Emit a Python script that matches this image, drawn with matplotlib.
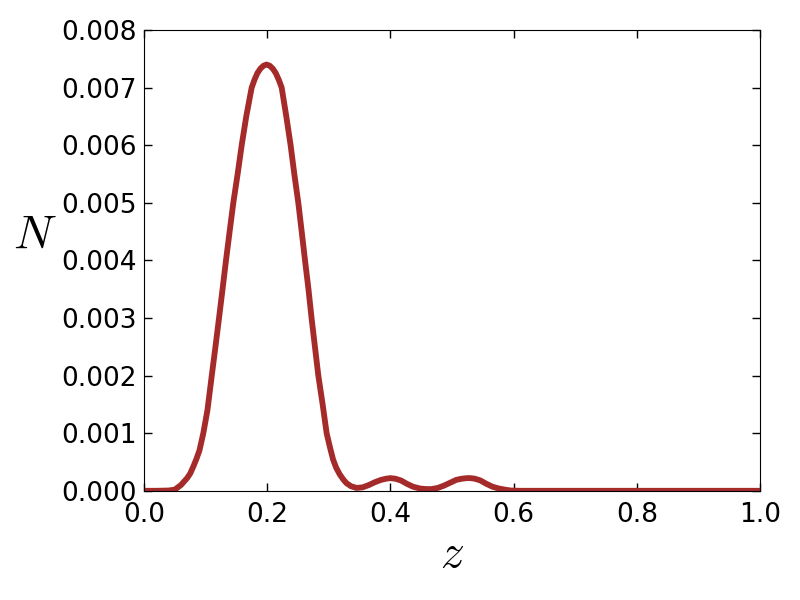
import matplotlib
matplotlib.use('Agg')
from matplotlib import pyplot as plt

# values
z = [0.0, 0.02, 0.04, 0.05, 0.06, 0.07, 0.075, 0.08, 0.085, 0.09, 0.0963, 0.103,
     0.110, 0.116, 0.1218, 0.1275, 0.1331, 0.139, 0.145, 0.152, 0.1586, 0.166,
     0.1748, 0.1795, 0.184, 0.189, 0.194, 0.199, 0.204, 0.209, 0.214, 0.219, 0.2235,
     0.231, 0.238, 0.244, 0.2505, 0.256, 0.2614, 0.267, 0.272, 0.2775, 0.283,
     0.290, 0.2965, 0.302, 0.307, 0.312, 0.318, 0.324, 0.329, 0.336, 0.345,
     0.355, 0.365, 0.375, 0.385, 0.393, 0.400, 0.408, 0.417, 0.427, 0.437,
     0.448, 0.458, 0.467, 0.477, 0.487, 0.497, 0.507, 0.516, 0.524, 0.530,
     0.537, 0.546, 0.556, 0.566, 0.576, 0.586, 0.595, 0.61, 0.7, 0.8,
     0.9, 1.0]
N = [0.0, 0.0, 0.000005, 0.00002, 0.0001, 0.00022, 0.0003, 0.00042, 0.00055, 0.0007, 0.001, 0.0014,
     0.002, 0.0025, 0.003, 0.0035, 0.004, 0.0045, 0.005, 0.0055, 0.006, 0.0065,
     0.007, 0.00714, 0.00725, 0.00733, 0.00738, 0.0074, 0.00738, 0.00733, 0.00725, 0.00713, 0.007,
     0.0065, 0.006, 0.0055, 0.005, 0.0045, 0.004, 0.0035, 0.003, 0.0025, 0.002,
     0.0015, 0.001, 0.00075, 0.00054, 0.0004, 0.00028, 0.00019, 0.00013, 0.00008, 0.00005,
     0.00006, 0.0001, 0.00015, 0.00019, 0.00021, 0.00022, 0.00021, 0.00018, 0.00012, 0.00007,
     0.00004, 0.00003, 0.00003, 0.00005, 0.00009, 0.00014, 0.00019, 0.00021, 0.00022, 0.00022,
     0.00021, 0.00018, 0.00012, 0.00007, 0.00004, 0.00002, 0.000005, 0.0, 0.0, 0.0,
     0.0, 0.0]

plt.rcParams['mathtext.fontset'] = 'cm'
plt.rcParams['font.size'] = 19

fig = plt.figure(figsize=(8, 6), dpi=100)
ax = fig.add_axes([0.18, 0.182, 0.77, 0.768])
ax.plot(z, N, color='#a52a2a', lw=4.2, solid_capstyle='round', solid_joinstyle='round')

ax.set_xlim(0, 1)
ax.set_ylim(0, 0.008)
ax.set_xticks([0.0, 0.2, 0.4, 0.6, 0.8, 1.0])
ax.set_yticks([0.000, 0.001, 0.002, 0.003, 0.004, 0.005, 0.006, 0.007, 0.008])
ax.set_yticklabels(['%.3f' % v for v in ax.get_yticks()])
ax.set_xticklabels(['%.1f' % v for v in ax.get_xticks()])
ax.tick_params(direction='in', top=True, right=True, length=6, width=1, pad=5)
ax.tick_params(axis='x', pad=8)

ax.set_xlabel('$z$', fontsize=34)
ax.set_ylabel('$N$', fontsize=34, rotation=0)
ax.xaxis.set_label_coords(0.5, -0.139)
ax.yaxis.set_label_coords(-0.177, 0.555)
ax.xaxis.label.set_va('center')
ax.yaxis.label.set_va('center')
ax.yaxis.label.set_ha('center')

plt.savefig('out.png', dpi=100)
